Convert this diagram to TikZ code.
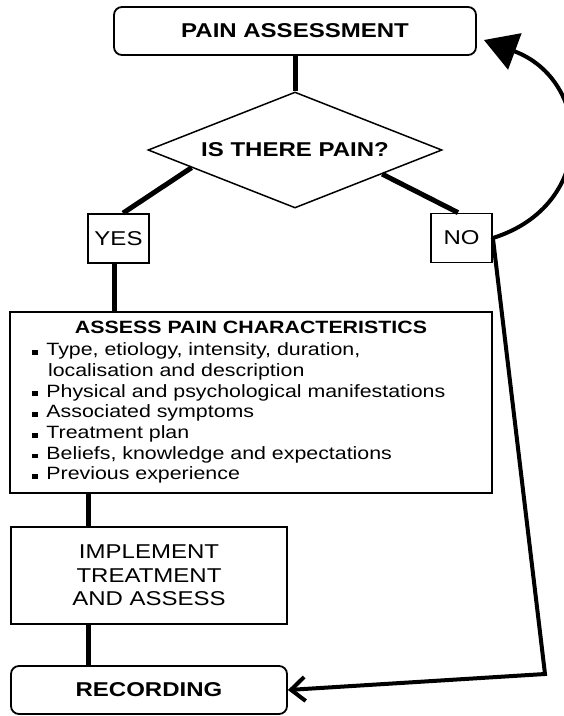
\documentclass[tikz,border=0pt]{standalone}
\usepackage{fontspec}
\setmainfont{Liberation Sans}[FakeStretch=1.2]
\usepackage{tikz}
\usetikzlibrary{shapes.geometric, arrows.meta, calc}

\newcommand{\sqbullet}{\rule[0.06em]{0.31em}{0.26em}\hspace{0.5em}}
\newcommand{\sqindent}{\hspace*{0.9em}}

\tikzset{
    roundbox/.style={draw, rounded corners=8pt, line width=1.8pt, minimum width=276pt, minimum height=48pt, font=\fontsize{20}{24}\selectfont\bfseries},
    decision/.style={draw, diamond, aspect=2.53, inner sep=0pt, line width=1.5pt, minimum width=294pt, minimum height=116pt, font=\fontsize{20}{24}\selectfont\bfseries},
    answer/.style={draw, line width=1.8pt, minimum width=61pt, minimum height=49pt, inner sep=0pt, font=\fontsize{20}{24}\selectfont},
    listbox/.style={draw, line width=1.8pt, minimum width=482pt, minimum height=181pt, text width=438pt, inner xsep=22pt, align=left, font=\fontsize{17.8}{20.7}\selectfont},
    plainbox/.style={draw, line width=1.8pt, minimum width=276pt, minimum height=97pt, align=center, font=\fontsize{20}{23.7}\selectfont},
    link/.style={line width=5pt},
    backline/.style={line width=4pt}
}

\begin{document}
\begin{tikzpicture}[x=1pt, y=-1pt]
\useasboundingbox (0,0) rectangle (564,716);

% Start and question
\node[roundbox, minimum width=362pt] (assessment) at (295,31) {PAIN ASSESSMENT};
\node[decision] (pain) at (295,150) {IS THERE PAIN?};

% Answers
\node[answer] (yes) at (118.5,238.5) {YES};
\node[answer] (no) at (461.5,238) {NO};

% Characteristics box
\node[listbox] (characteristics) at (251,402.5) {
    \makebox[\hsize][c]{\bfseries ASSESS PAIN CHARACTERISTICS}\\[1.3pt]
    \sqbullet Type, etiology, intensity, duration,\\
    \sqindent localisation and description\\
    \sqbullet Physical and psychological manifestations\\
    \sqbullet Associated symptoms\\
    \sqbullet Treatment plan\\
    \sqbullet Beliefs, knowledge and expectations\\
    \sqbullet Previous experience
};

% Treatment and recording
\node[plainbox] (treatment) at (149,575.5) {IMPLEMENT\\TREATMENT\\AND ASSESS};
\node[roundbox] (recording) at (149,690) {RECORDING};
\coordinate (bend) at (545,674);

% Connectors
\draw[link] (assessment) -- (pain);
\draw[link] ($(pain.west)!0.3!(pain.south)$) -- ([xshift=4.5pt]yes.north);
\draw[link] ($(pain.south)!0.59!(pain.east)$) -- ([xshift=-3.5pt]no.north);
\draw[link] ([xshift=-4.5pt]yes.south) -- ([xshift=-4.5pt]yes.south |- characteristics.north);
\draw[link] ([xshift=-61pt]treatment.north) -- ([xshift=-61pt]treatment.north |- characteristics.south);
\draw[link] ([xshift=-61pt]treatment.south) -- ([xshift=-61pt]recording.north);
\draw[backline, -{Triangle[length=33pt,width=38pt]}] (no.east) .. controls (598,205) and (592,80) .. ([xshift=7pt,yshift=-9pt]assessment.east);
\draw[backline, -{Straight Barb[length=14pt,width=24pt]}] (no.east) -- (bend) -- (recording.east);

\end{tikzpicture}
\end{document}
